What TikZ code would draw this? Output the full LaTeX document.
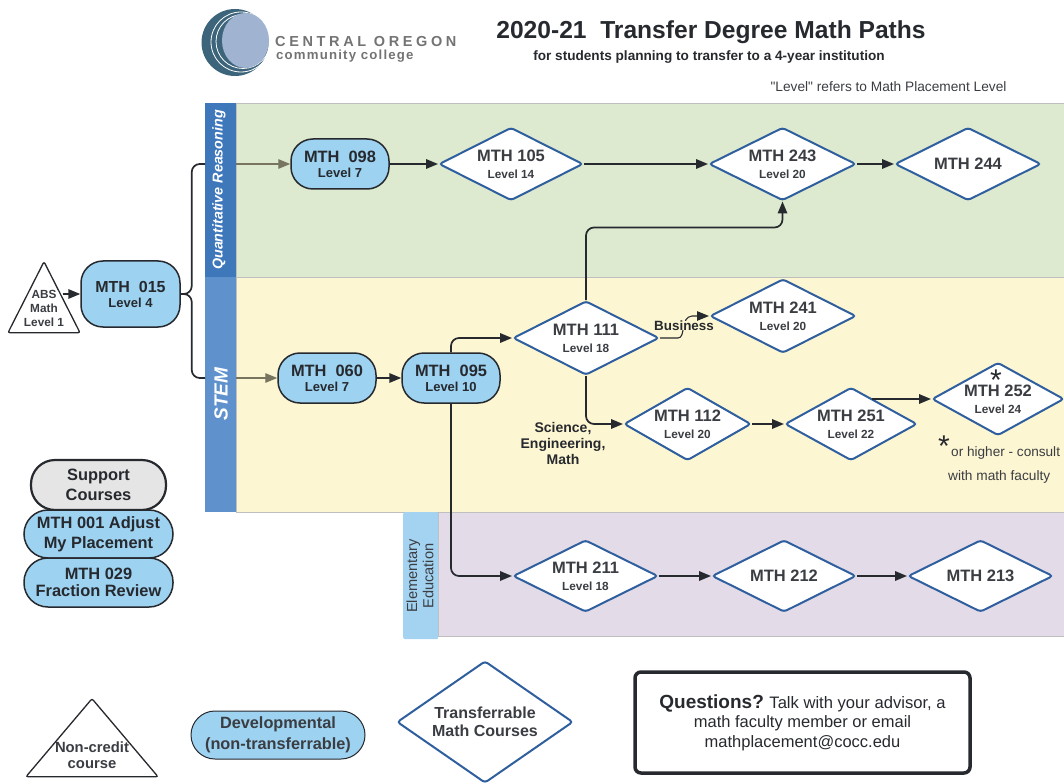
\documentclass[tikz,border=0pt]{standalone}
\usepackage{fontspec}
\setmainfont{Liberation Sans}
\newfontfamily\lvlfont{Liberation Sans}
\newfontfamily\logofont[LetterSpace=25]{Liberation Sans}
\newfontfamily\logofontb[LetterSpace=9]{Liberation Sans}
\usetikzlibrary{shapes.geometric,arrows.meta,calc}
\definecolor{pillblue}{HTML}{9DD2F1}
\definecolor{diaedge}{HTML}{2F5F9E}
\definecolor{lgreen}{HTML}{DDEACF}
\definecolor{lyellow}{HTML}{FDF6D2}
\definecolor{lpurple}{HTML}{E3DBE8}
\definecolor{sdark}{HTML}{3F78BA}
\definecolor{smid}{HTML}{5F91CC}
\definecolor{slight}{HTML}{A3D3F0}
\definecolor{ink}{HTML}{26292E}
\definecolor{dtext}{HTML}{3A3D42}
\definecolor{flow}{HTML}{77745F}
\definecolor{logodark}{HTML}{3C647A}
\definecolor{logolight}{HTML}{A0B3D0}
\newcommand{\fs}[1]{\fontsize{#1}{#1}\selectfont}
\newcommand{\dlabel}[2]{{\fs{16.5}\bfseries #1}\\[5pt]{\fs{11.8}\bfseries #2}}
\tikzset{
  x=1pt,y=-1pt,
  lane/.style={rectangle,anchor=north west,inner sep=0,draw=black!25,line width=.5pt},
  strip/.style={rectangle,anchor=north west,inner sep=0},
  pill/.style={rectangle,rounded corners=22pt,draw=ink,line width=1.5pt,fill=pillblue,inner sep=0,
    align=center,text=ink,font=\bfseries},
  dia/.style={diamond,aspect=2,draw=diaedge,line width=2pt,fill=white,rounded corners=3pt,inner sep=0,
    align=center,text=dtext},
  tri/.style={isosceles triangle,isosceles triangle stretches,shape border rotate=90,draw=ink,line width=1.3pt,
    fill=white,rounded corners=2pt,inner sep=0,anchor=apex},
  tip/.style={-{Triangle[length=12pt,width=9.5pt]}},
  link/.style={draw=ink,line width=1.7pt,rounded corners=8pt,tip},
  plainlink/.style={draw=ink,line width=1.7pt,rounded corners=8pt},
  graylink/.style={draw=flow,line width=1.3pt,tip},
  thinlink/.style={draw=ink,line width=1.1pt,tip},
  txt/.style={inner sep=0,align=center,text=ink},
}
\begin{document}
\begin{tikzpicture}
\useasboundingbox (0,0) rectangle (1064,783);
% lanes
\node[lane,fill=lgreen,minimum width=828,minimum height=174] (lgr) at (236,103) {};
\node[lane,fill=lyellow,minimum width=828,minimum height=235] (lye) at (236,277) {};
\node[lane,fill=lpurple,minimum width=626,minimum height=124] (lpu) at (438,512) {};
\node[strip,fill=sdark,minimum width=31,minimum height=174] (sq) at (205,103) {};
\node[strip,fill=smid,minimum width=31,minimum height=235] (ss) at (205,277) {};
\node[strip,fill=slight,minimum width=35,minimum height=127,rounded corners=2pt] (se) at (403,512) {};
\node[txt,rotate=90,text=white] (tq) at (219,190) {\fs{14.3}\bfseries\itshape Quantitative Reasoning};
\node[txt,rotate=90,text=white] (ts) at (221,394) {\fs{19}\bfseries\itshape STEM};
\node[txt,rotate=90,text=dtext] (te) at (420,576) {\fs{14.6}Elementary\\[1.5pt]\fs{14.6}Education};
% logo
\fill[logodark] (235,42.5) circle (33.5);
\draw[white,line width=.8pt] (241,42) circle (30);
\draw[white,line width=.8pt] (243,41.5) circle (27);
\fill[logolight] (245.5,40.5) ellipse (23.5 and 27.5);
\node[txt,anchor=west,text=black!55] (l1) at (275,42) {\fs{14.5}\logofont\bfseries CENTRAL OREGON};
\node[txt,anchor=west,text=black!55] (l2) at (276,56.5) {\fs{13.2}\logofontb\bfseries community college};
% titles
\node[txt] (title) at (711,32) {\fs{24.6}\bfseries 2020-21\ \ Transfer Degree Math Paths};
\node[txt] (sub) at (709,57) {\fs{13.6}\bfseries for students planning to transfer to a 4-year institution};
\node[txt,text=dtext] (lvl) at (888.5,87) {\fs{13.7}\lvlfont "Level" refers to Math Placement Level};
% nodes
\node[tri,minimum width=72,minimum height=71] (abs) at (44,260) {};
\node[txt,text=dtext] (abst) at (44,308) {\fs{11.8}\bfseries ABS\\[2pt]\fs{11.8}\bfseries Math\\[2pt]\fs{11.8}\bfseries Level 1};
\node[pill,minimum width=99,minimum height=66] (m015) at (130.5,294) {{\fs{16}MTH\ \ 015}\\[3pt]{\fs{13}Level 4}};
\node[pill,minimum width=98,minimum height=50] (m098) at (340,164) {{\fs{16.4}MTH\ \ 098}\\[3pt]{\fs{13}Level 7}};
\node[pill,minimum width=98,minimum height=50] (m060) at (327,378) {{\fs{16.4}MTH\ \ 060}\\[3pt]{\fs{13}Level 7}};
\node[pill,minimum width=98,minimum height=50] (m095) at (451,378) {{\fs{16.4}MTH\ \ 095}\\[3pt]{\fs{13}Level 10}};
\node[dia,minimum width=144,minimum height=73] (m105) at (511,164) {\dlabel{MTH 105}{Level 14}};
\node[dia,minimum width=147,minimum height=73] (m243) at (782.5,164) {\dlabel{MTH 243}{Level 20}};
\node[dia,minimum width=146,minimum height=73] (m244) at (968,164) {\fs{16.5}\bfseries MTH 244};
\node[dia,minimum width=146,minimum height=74] (m111) at (586,338) {\dlabel{MTH 111}{Level 18}};
\node[dia,minimum width=146,minimum height=74] (m241) at (783,316) {\dlabel{MTH 241}{Level 20}};
\node[dia,minimum width=127,minimum height=73] (m112) at (687.5,424) {\dlabel{MTH 112}{Level 20}};
\node[dia,minimum width=132,minimum height=73] (m251) at (851,424) {\dlabel{MTH 251}{Level 22}};
\node[dia,minimum width=132,minimum height=73] (m252) at (998,399) {\dlabel{MTH 252}{Level 24}};
\node[dia,minimum width=145,minimum height=72] (m211) at (585.5,576) {\dlabel{MTH 211}{Level 18}};
\node[dia,minimum width=144,minimum height=72] (m212) at (784,576) {\fs{16.5}\bfseries MTH 212};
\node[dia,minimum width=145,minimum height=72] (m213) at (980.5,576) {\fs{16.5}\bfseries MTH 213};
% support
\node[pill,fill=black!10,rounded corners=24pt,line width=2.2pt,minimum width=135,minimum height=50] (sup0) at (98.5,485) {\fs{16.4}Support\\[4pt]\fs{16.4}Courses};
\node[pill,rounded corners=24pt,minimum width=149,minimum height=48] (sup1) at (98.5,534) {\fs{16.4}MTH 001 Adjust\\[4pt]\fs{16.4}My Placement};
\node[pill,rounded corners=24pt,minimum width=149,minimum height=49] (sup2) at (98.5,582.5) {\fs{16.4}MTH 029\\[4pt]\fs{16.4}Fraction Review};
% legend
\node[tri,minimum width=132,minimum height=78] (ltri) at (92,697) {};
\node[txt,text=dtext] (ltrit) at (92,755.5) {\fs{14.8}\bfseries Non-credit\\[4pt]\fs{14.8}\bfseries course};
\node[pill,rounded corners=24pt,line width=1pt,minimum width=174,minimum height=48,text=dtext] (ldev) at (278,735) {\fs{16.3}Developmental\\[4.5pt]\fs{16.3}(non-transferrable)};
\node[dia,aspect=1.44,minimum width=176,minimum height=122,text=dtext] (ltra) at (485,722) {\fs{16}\bfseries Transferrable\\[6pt]\fs{16}\bfseries Math Courses};
\node[rectangle,draw=ink,line width=3.5pt,rounded corners=6pt,minimum width=335,minimum height=101,inner sep=0,align=center,text=ink] (q) at (802.5,722.5)
  {{\fs{19}\bfseries Questions?}\ \ {\fs{16.6}Talk with your advisor, a}\\[3pt]\fs{16.5}math faculty member or email\\[3pt]\fs{16.5}mathplacement@cocc.edu};
% connectors
\coordinate (absout) at (abs.right side);
\draw[link] (absout |- m015.west) -- (m015.west);
\draw[plainlink] (m015.east) -- ++(11,0) |- (sq.west |- m098.west);
\draw[plainlink] (m015.east) -- ++(11,0) |- (ss.west |- m060.west);
\draw[graylink] (sq.east |- m098.west) -- (m098.west);
\draw[graylink] (ss.east |- m060.west) -- (m060.west);
\draw[link] (m098.east) -- (m105.west);
\draw[link] (m105.east) -- (m243.west);
\draw[link] (m243.east) -- (m244.west);
\draw[link] (m060.east) -- (m095.west);
\draw[link] (m095.north) |- (m111.west);
\draw[link] (m095.south) |- (m211.west);
\coordinate (turn243) at ($(m243.south)+(0,26)$);
\draw[link] (m111.north) |- (turn243) -- (m243.south);
\draw[thinlink] (m111.east) -- (678,338) .. controls (686,338) and (680,317) .. (692,316) -- (m241.west);
\draw[link] (m111.south) |- (m112.west);
\draw[link] (m112.east) -- (m251.west);
\coordinate (m251o) at ($(m251.north)!0.32!(m251.east)$);
\draw[link] (m251o |- m252.west) -- (m252.west);
\draw[link] (m211.east) -- (m212.west);
\draw[link] (m212.east) -- (m213.west);
% labels
\node[txt,fill=lyellow] (bus) at (684,325.5) {\fs{13.4}\bfseries Business};
\node[txt] (sem) at (563,443.5) {\fs{14}\bfseries Science,\\[2.5pt]\fs{14}\bfseries Engineering,\\[2.5pt]\fs{14}\bfseries Math};
\node[txt] (star1) at (996,380) {\fs{30}*};
\node[txt] (star2) at (944,446) {\fs{30}*};
\node[txt,anchor=west,text=dtext] (n1) at (951,453) {\fs{13.6}or higher - consult};
\node[txt,anchor=west,text=dtext] (n2) at (948,477) {\fs{13.7}with math faculty};
\end{tikzpicture}
\end{document}
